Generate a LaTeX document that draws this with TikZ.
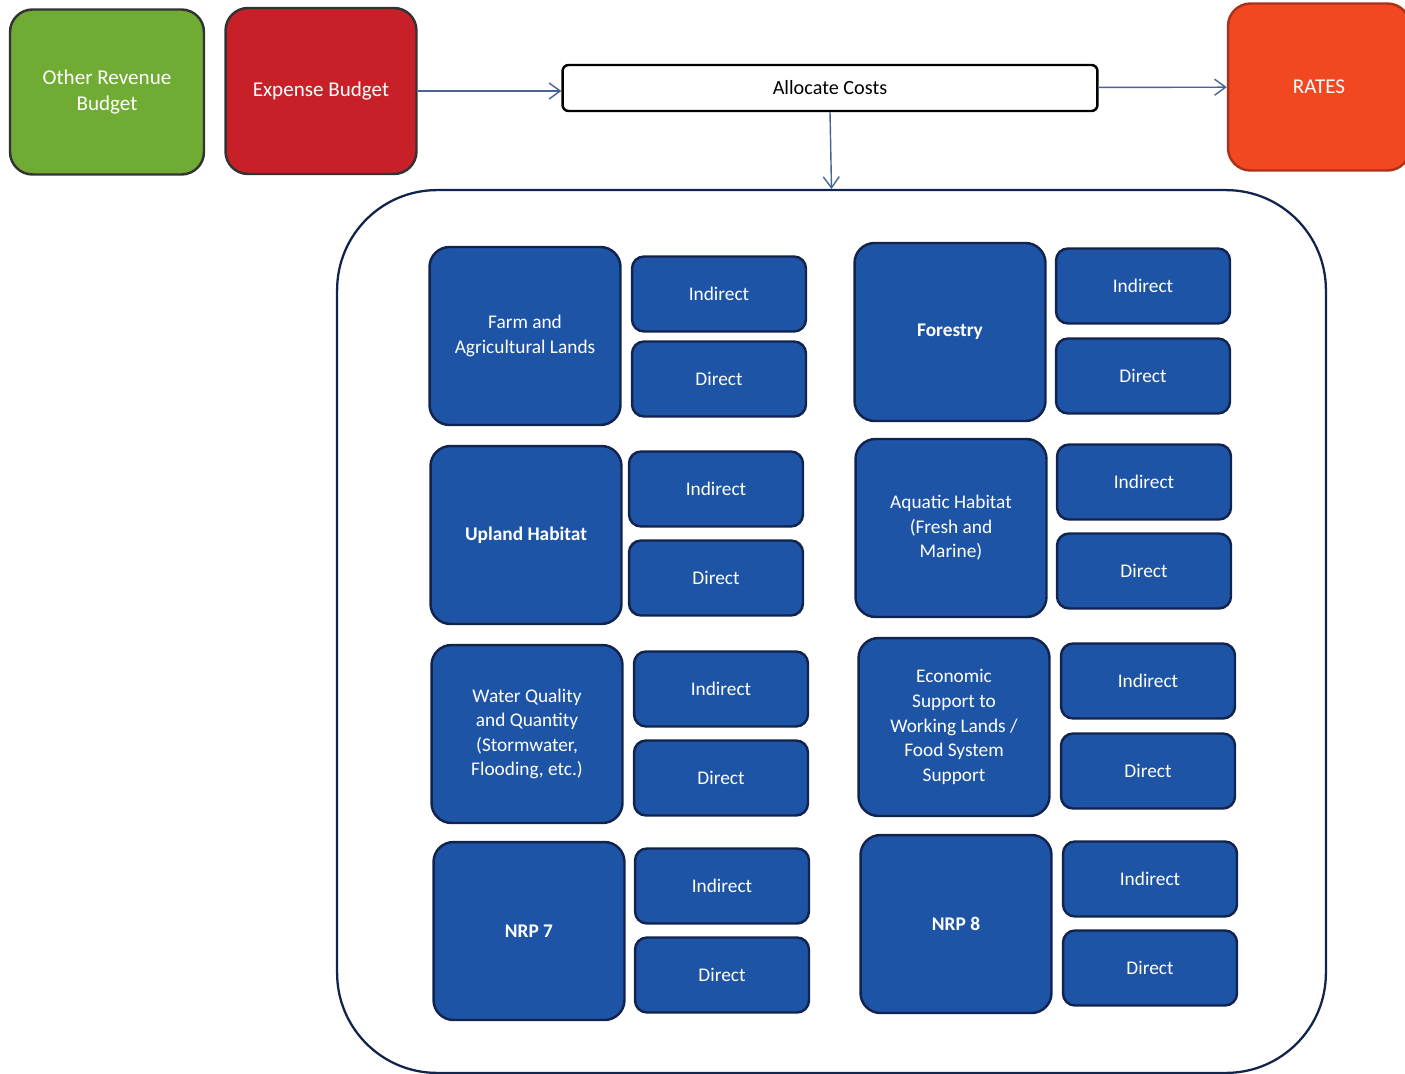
\documentclass[tikz,border=0pt]{standalone}
\usepackage{fontspec}
\setmainfont{Carlito}
\usetikzlibrary{arrows.meta}

\definecolor{areablue}{RGB}{30,84,166}
\definecolor{arealine}{RGB}{18,36,78}
\definecolor{revgreen}{RGB}{112,172,52}
\definecolor{expred}{RGB}{200,32,40}
\definecolor{ratered}{RGB}{242,72,34}
\definecolor{linkblue}{RGB}{70,100,150}

\tikzset{
  area/.style={draw=arealine, fill=areablue, line width=1.4pt, rounded corners=0.4cm,
    minimum width=3.82cm, minimum height=3.56cm, text=white, align=center,
    font=\fontsize{11}{14}\selectfont},
  cost/.style={draw=arealine, fill=areablue, line width=1.4pt, rounded corners=0.24cm,
    minimum width=3.48cm, minimum height=1.5cm, text=white,
    font=\fontsize{11}{14}\selectfont},
  budget/.style={draw=black!80, line width=1.4pt, rounded corners=0.45cm,
    text=white, align=center, font=\fontsize{12}{15}\selectfont},
  link/.style={draw=linkblue, line width=0.8pt, -{Straight Barb[length=2.2mm,width=3.2mm]}}
}

\begin{document}
\begin{tikzpicture}[x=0.02cm, y=-0.02cm]
\useasboundingbox (0,0) rectangle (1405,1074);

% top row
\node[budget, fill=revgreen, minimum width=3.88cm, minimum height=3.3cm] (other) at (107,92) {Other Revenue\\Budget};
\node[budget, fill=expred, minimum width=3.82cm, minimum height=3.32cm] (expense) at (321,91) {Expense Budget};
\node[draw=black, line width=1.4pt, fill=white, rounded corners=0.12cm, minimum width=10.7cm, minimum height=0.92cm,
  font=\fontsize{11.5}{14}\selectfont] (alloc) at (830,88) {Allocate Costs};
\node[budget, fill=ratered, draw=ratered!70!black, minimum width=3.64cm, minimum height=3.34cm] (rates) at (1319,87) {RATES};

% container
\node[draw=arealine, line width=1.3pt, rounded corners=2cm, minimum width=19.78cm, minimum height=17.66cm] (pool) at (831.5,631.5) {};

\draw[link] (expense.east) -- (alloc.west |- expense.east);
\draw[link] (alloc) -- (rates);
\draw[link] (alloc.south) -- (pool.north);

% left column
\node[area] (farm) at (525,336) {Farm and\\Agricultural Lands};
\node[cost] (farmind) at (719,294) {Indirect};
\node[cost] (farmdir) at (719,379) {Direct};

\node[area, font=\fontsize{11}{14}\bfseries] (upland) at (526,535) {Upland Habitat};
\node[cost] (uplandind) at (716,489) {Indirect};
\node[cost] (uplanddir) at (716,578) {Direct};

\node[area] (water) at (527,734) {Water Quality\\and Quantity\\(Stormwater,\\Flooding, etc.)};
\node[cost] (waterind) at (721,689) {Indirect};
\node[cost] (waterdir) at (721,778) {Direct};

\node[area, font=\fontsize{11}{14}\bfseries] (nrpseven) at (529,931) {NRP 7};
\node[cost] (nrpsevenind) at (722,886) {Indirect};
\node[cost] (nrpsevendir) at (722,975) {Direct};

% right column
\node[area, font=\fontsize{11}{14}\bfseries] (forest) at (950,332) {Forestry};
\node[cost] (forestind) at (1143,286) {Indirect};
\node[cost] (forestdir) at (1143,376) {Direct};

\node[area] (aquatic) at (951,528) {Aquatic Habitat\\(Fresh and\\Marine)};
\node[cost] (aquaticind) at (1144,482) {Indirect};
\node[cost] (aquaticdir) at (1144,571) {Direct};

\node[area] (econ) at (954,727) {Economic\\Support to\\Working Lands /\\Food System\\Support};
\node[cost] (econind) at (1148,681) {Indirect};
\node[cost] (econdir) at (1148,771) {Direct};

\node[area, font=\fontsize{11}{14}\bfseries] (nrpeight) at (956,924) {NRP 8};
\node[cost] (nrpeightind) at (1150,879) {Indirect};
\node[cost] (nrpeightdir) at (1150,968) {Direct};
\end{tikzpicture}
\end{document}
